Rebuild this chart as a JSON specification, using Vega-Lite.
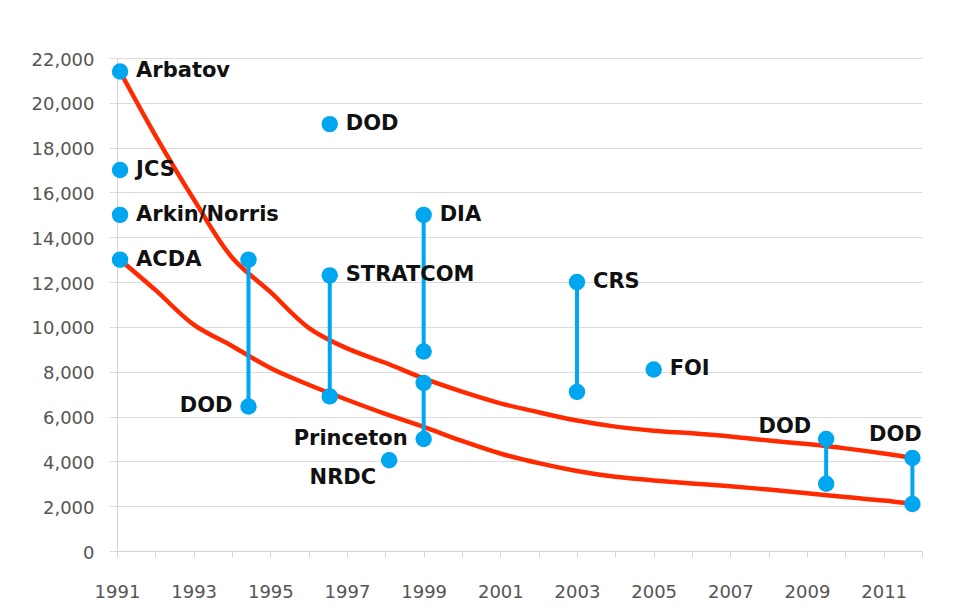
{
  "$schema": "https://vega.github.io/schema/vega-lite/v6.json",
  "autosize": {"type": "none"},
  "width": 805,
  "height": 493,
  "padding": {"left": 117, "top": 58, "right": 39, "bottom": 62},
  "background": "#ffffff",
  "config": {
    "view": {"stroke": null},
    "font": "DejaVu Sans"
  },
  "datasets": {
    "estimates": [
      {"source": "Arbatov", "year": 1991.08, "value": 21400},
      {"source": "JCS", "year": 1991.08, "value": 17000},
      {"source": "Arkin/Norris", "year": 1991.08, "value": 15000},
      {"source": "ACDA", "year": 1991.08, "value": 13000},
      {"source": "DOD", "year": 1994.43, "value": 13000},
      {"source": "DOD", "year": 1994.43, "value": 6450},
      {"source": "DOD", "year": 1996.55, "value": 19050},
      {"source": "STRATCOM", "year": 1996.55, "value": 12300},
      {"source": "STRATCOM", "year": 1996.55, "value": 6900},
      {"source": "NRDC", "year": 1998.1, "value": 4050},
      {"source": "DIA", "year": 1999, "value": 15000},
      {"source": "DIA", "year": 1999, "value": 8900},
      {"source": "Princeton", "year": 1999, "value": 7500},
      {"source": "Princeton", "year": 1999, "value": 5000},
      {"source": "CRS", "year": 2003, "value": 12000},
      {"source": "CRS", "year": 2003, "value": 7100},
      {"source": "FOI", "year": 2005, "value": 8100},
      {"source": "DOD", "year": 2009.5, "value": 5000},
      {"source": "DOD", "year": 2009.5, "value": 3000},
      {"source": "DOD", "year": 2011.75, "value": 4150},
      {"source": "DOD", "year": 2011.75, "value": 2100}
    ],
    "curves": [
      {"series": "high", "year": 1991.08, "value": 21400},
      {"series": "high", "year": 1992, "value": 18550},
      {"series": "high", "year": 1993, "value": 15700},
      {"series": "high", "year": 1994, "value": 13100},
      {"series": "high", "year": 1995, "value": 11560},
      {"series": "high", "year": 1996, "value": 9960},
      {"series": "high", "year": 1997, "value": 9040},
      {"series": "high", "year": 1998, "value": 8400},
      {"series": "high", "year": 1999, "value": 7700},
      {"series": "high", "year": 2000, "value": 7110},
      {"series": "high", "year": 2001, "value": 6590},
      {"series": "high", "year": 2002, "value": 6190},
      {"series": "high", "year": 2003, "value": 5820},
      {"series": "high", "year": 2004, "value": 5550},
      {"series": "high", "year": 2005, "value": 5370},
      {"series": "high", "year": 2006, "value": 5250},
      {"series": "high", "year": 2007, "value": 5110},
      {"series": "high", "year": 2008, "value": 4930},
      {"series": "high", "year": 2009, "value": 4770},
      {"series": "high", "year": 2010, "value": 4580},
      {"series": "high", "year": 2011, "value": 4350},
      {"series": "high", "year": 2011.75, "value": 4150},
      {"series": "low", "year": 1991.08, "value": 13000},
      {"series": "low", "year": 1992, "value": 11650},
      {"series": "low", "year": 1993, "value": 10100},
      {"series": "low", "year": 1994, "value": 9150},
      {"series": "low", "year": 1995, "value": 8170},
      {"series": "low", "year": 1996, "value": 7420},
      {"series": "low", "year": 1997, "value": 6750},
      {"series": "low", "year": 1998, "value": 6120},
      {"series": "low", "year": 1999, "value": 5540},
      {"series": "low", "year": 2000, "value": 4910},
      {"series": "low", "year": 2001, "value": 4350},
      {"series": "low", "year": 2002, "value": 3920},
      {"series": "low", "year": 2003, "value": 3570},
      {"series": "low", "year": 2004, "value": 3310},
      {"series": "low", "year": 2005, "value": 3150},
      {"series": "low", "year": 2006, "value": 3010},
      {"series": "low", "year": 2007, "value": 2890},
      {"series": "low", "year": 2008, "value": 2740},
      {"series": "low", "year": 2009, "value": 2580},
      {"series": "low", "year": 2010, "value": 2410},
      {"series": "low", "year": 2011, "value": 2250},
      {"series": "low", "year": 2011.75, "value": 2100}
    ]
  },
  "encoding": {
    "x": {
      "field": "year",
      "type": "quantitative",
      "scale": {"domain": [1991, 2012], "nice": false, "zero": false},
      "axis": {
        "title": null,
        "values": [1991, 1992, 1993, 1994, 1995, 1996, 1997, 1998, 1999, 2000, 2001, 2002, 2003, 2004, 2005, 2006, 2007, 2008, 2009, 2010, 2011, 2012],
        "labelExpr": "datum.value % 2 == 1 ? format(datum.value, 'd') : ''",
        "grid": false,
        "tickSize": 6,
        "tickColor": "#d4d4d4",
        "domainColor": "#d4d4d4",
        "labelPadding": 26,
        "labelFontSize": 18,
        "labelColor": "#555555",
        "labelFont": "DejaVu Sans",
        "labelFlush": false,
        "labelOverlap": false
      }
    },
    "y": {
      "field": "value",
      "type": "quantitative",
      "scale": {"domain": [0, 22000], "nice": false},
      "axis": {
        "title": null,
        "values": [0, 2000, 4000, 6000, 8000, 10000, 12000, 14000, 16000, 18000, 20000, 22000],
        "format": ",d",
        "grid": true,
        "gridColor": "#dcdcdc",
        "gridWidth": 1.2,
        "tickSize": 8,
        "tickColor": "#dcdcdc",
        "domainColor": "#d4d4d4",
        "labelPadding": 15,
        "labelOffset": 2,
        "labelFontSize": 18,
        "labelColor": "#555555",
        "labelFont": "DejaVu Sans",
        "labelFlush": false,
        "labelOverlap": false
      }
    }
  },
  "layer": [
    {
      "data": {"name": "curves"},
      "mark": {"type": "line", "color": "#ff2a00", "strokeWidth": 4.5, "interpolate": "catmull-rom"},
      "encoding": {"detail": {"field": "series", "type": "nominal"}}
    },
    {
      "data": {"name": "estimates"},
      "transform": [
        {"aggregate": [{"op": "min", "field": "value", "as": "lo"}, {"op": "max", "field": "value", "as": "hi"}], "groupby": ["source", "year"]},
        {"filter": "datum.hi > datum.lo"}
      ],
      "mark": {"type": "rule", "color": "#00a6f0", "strokeWidth": 4},
      "encoding": {
        "y": {"field": "lo", "type": "quantitative"},
        "y2": {"field": "hi"}
      }
    },
    {
      "data": {"name": "estimates"},
      "mark": {"type": "circle", "color": "#00a6f0", "size": 270, "opacity": 1}
    },
    {
      "data": {"name": "estimates"},
      "transform": [
        {"joinaggregate": [{"op": "min", "field": "value", "as": "lo"}, {"op": "max", "field": "value", "as": "hi"}], "groupby": ["source", "year"]},
        {"filter": "(datum.value == datum.hi && indexof(['Arbatov','JCS','Arkin/Norris','ACDA','STRATCOM','DIA','CRS','FOI'], datum.source) >= 0) || (datum.source == 'DOD' && datum.year == 1996.55)"}
      ],
      "mark": {"type": "text", "align": "left", "baseline": "middle", "dx": 16, "fontSize": 21, "fontWeight": "bold", "font": "DejaVu Sans", "color": "#111111"},
      "encoding": {"text": {"field": "source"}}
    },
    {
      "data": {"name": "estimates"},
      "transform": [
        {"joinaggregate": [{"op": "min", "field": "value", "as": "lo"}], "groupby": ["source", "year"]},
        {"filter": "(datum.source == 'Princeton' && datum.value == datum.lo) || (datum.source == 'DOD' && datum.year == 1994.43 && datum.value == datum.lo)"}
      ],
      "mark": {"type": "text", "align": "right", "baseline": "middle", "dx": -16, "fontSize": 21, "fontWeight": "bold", "font": "DejaVu Sans", "color": "#111111"},
      "encoding": {"text": {"field": "source"}}
    },
    {
      "data": {"name": "estimates"},
      "transform": [{"filter": "datum.source == 'NRDC'"}],
      "mark": {"type": "text", "align": "right", "baseline": "middle", "dx": -13, "dy": 18, "fontSize": 21, "fontWeight": "bold", "font": "DejaVu Sans", "color": "#111111"},
      "encoding": {"text": {"field": "source"}}
    },
    {
      "data": {"name": "estimates"},
      "transform": [{"filter": "datum.source == 'DOD' && datum.year == 2009.5 && datum.value == 5000"}],
      "mark": {"type": "text", "align": "right", "baseline": "middle", "dx": -15, "dy": -12, "fontSize": 21, "fontWeight": "bold", "font": "DejaVu Sans", "color": "#111111"},
      "encoding": {"text": {"field": "source"}}
    },
    {
      "data": {"name": "estimates"},
      "transform": [{"filter": "datum.source == 'DOD' && datum.year == 2011.75 && datum.value == 4150"}],
      "mark": {"type": "text", "align": "center", "baseline": "middle", "dx": -17, "dy": -23, "fontSize": 21, "fontWeight": "bold", "font": "DejaVu Sans", "color": "#111111"},
      "encoding": {"text": {"field": "source"}}
    }
  ]
}
